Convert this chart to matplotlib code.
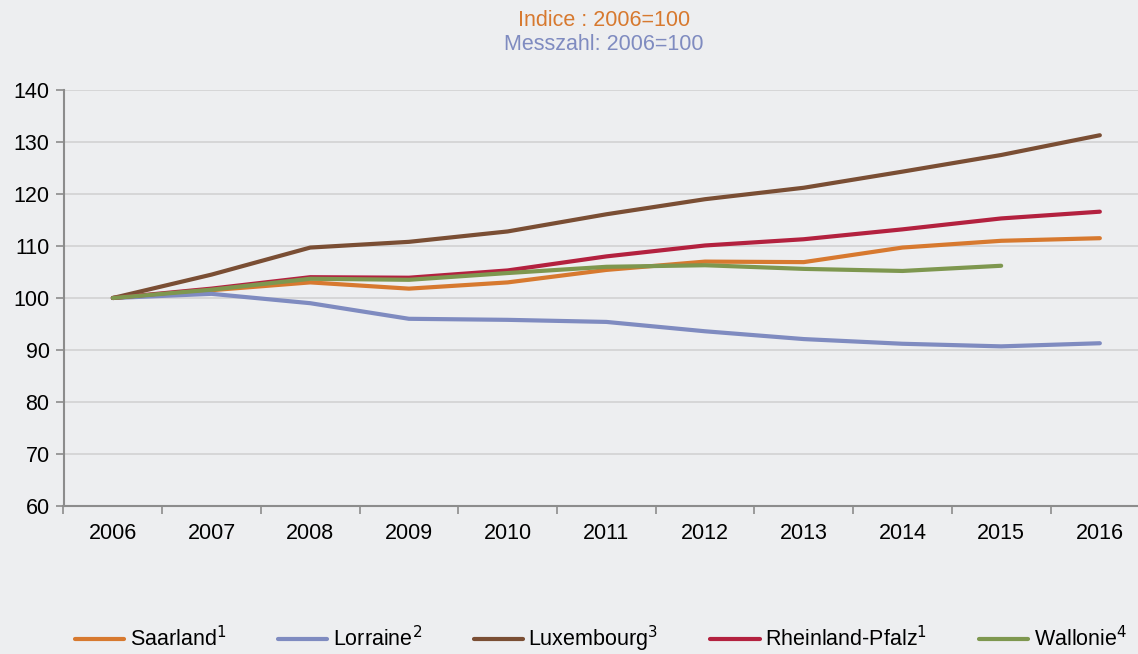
import matplotlib
matplotlib.use("Agg")
import matplotlib.pyplot as plt

plt.rcParams['font.family'] = ['Liberation Sans', 'DejaVu Sans']

years = ['2006', '2007', '2008', '2009', '2010', '2011', '2012', '2013', '2014', '2015', '2016']

saarland = [100, 101.5, 103.0, 101.8, 103.0, 105.4, 107.0, 106.9, 109.7, 111.0, 111.5]
lorraine = [100, 100.8, 99.0, 96.0, 95.8, 95.4, 93.6, 92.1, 91.2, 90.7, 91.3]
luxembourg = [100, 104.5, 109.7, 110.8, 112.8, 116.1, 119.0, 121.2, 124.3, 127.5, 131.3]
rheinland = [100, 101.8, 104.0, 103.9, 105.3, 108.0, 110.1, 111.3, 113.2, 115.3, 116.6]
wallonie = [100, 101.6, 103.7, 103.5, 104.8, 106.0, 106.3, 105.6, 105.2, 106.2]

labels = ['Saarland$^1$', 'Lorraine$^2$', 'Luxembourg$^3$', 'Rheinland-Pfalz$^1$', 'Wallonie$^4$']
colors = ['#D7792F', '#7F8BC0', '#7A4E34', '#B3213F', '#7E974F']

bg = '#EDEEF0'
W, H = 1138, 654
fs = 15.5
fig = plt.figure(figsize=(W / 100, H / 100), dpi=100, facecolor=bg)
ax = fig.add_axes([63.5 / W, 1 - 506 / H, (W - 63.5) / W, (506 - 90) / H], facecolor=bg)

x = list(range(len(years)))
series = [saarland, lorraine, luxembourg, rheinland, wallonie]
for vals, lab, col in zip(series, labels, colors):
    ax.plot(x[:len(vals)], vals, color=col, lw=3, label=lab, solid_capstyle='round')

ax.set_ylim(60, 140)
ax.set_yticks(range(60, 141, 10))
ax.set_xlim(-0.5, -0.5 + (W - 63.5) / 98.7)
ax.set_xticks(x)
ax.set_xticklabels(years)
ax.set_xticks([i - 0.5 for i in range(len(years))], minor=True)
ax.tick_params(axis='x', which='major', length=0, pad=12, labelsize=fs)
ax.tick_params(axis='x', which='minor', length=6, color='#8C8C8C', width=1.2)
ax.tick_params(axis='y', length=6, color='#8C8C8C', width=1.2, labelsize=fs, pad=4)
ax.grid(axis='y', color='#D2D2D2', lw=1.2)
ax.set_axisbelow(True)
for s in ['top', 'right']:
    ax.spines[s].set_visible(False)
for s in ['left', 'bottom']:
    ax.spines[s].set_color('#8C8C8C')
    ax.spines[s].set_linewidth(1.5)

fig.text(604 / W, 1 - 20 / H, 'Indice : 2006=100', color='#D7792F', fontsize=fs, ha='center', va='center')
fig.text(604 / W, 1 - 44 / H, 'Messzahl: 2006=100', color='#7F8BC0', fontsize=fs, ha='center', va='center')

fig.legend(loc='center', bbox_to_anchor=(0.528, 1 - 639 / H), ncol=5, frameon=False,
           fontsize=fs, handlelength=2.3, handletextpad=0.25, columnspacing=2.4)

fig.savefig('out.png', dpi=100, facecolor=bg)
